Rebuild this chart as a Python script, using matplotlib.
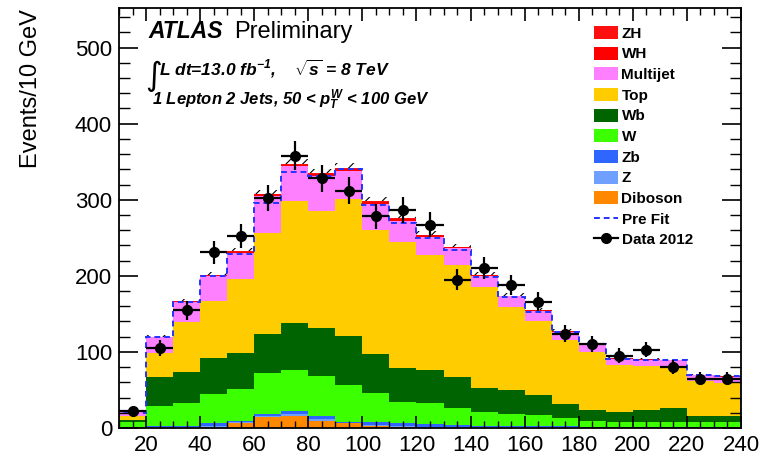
import numpy as np
import matplotlib
matplotlib.use("Agg")
import matplotlib.pyplot as plt
from matplotlib.patches import Patch
from matplotlib.lines import Line2D

plt.rcParams['font.family'] = ['Liberation Sans', 'DejaVu Sans']
plt.rcParams['mathtext.fontset'] = 'custom'
plt.rcParams['mathtext.rm'] = 'Liberation Sans:bold:italic'
plt.rcParams['mathtext.it'] = 'Liberation Sans:bold:italic'
plt.rcParams['mathtext.bf'] = 'Liberation Sans:bold:italic'
plt.rcParams['hatch.linewidth'] = 0.8

# m_jj bins, 10 GeV wide
edges = np.arange(10, 250, 10)

# per-process yields (stack order bottom -> top)
diboson = [0, 0, 0, 0, 7, 15, 16, 9, 6, 2, 1, 0, 0, 0, 0, 0, 0, 0, 0, 0, 0, 0, 0]
z_jets = [0.4, 0.7, 1, 2, 0.7, 1.4, 2, 2.5, 0.7, 2, 1.7, 1.7, 1.4, 1, 1, 0.7, 0.7, 0.3, 0.3, 0.3, 0.3, 0.3, 0.3]
zb = [0.6, 1.3, 2, 4, 1.3, 2.6, 4, 4.5, 1.3, 4, 3.3, 3.3, 2.6, 2, 2, 1.3, 1.3, 0.7, 0.7, 0.7, 0.7, 0.7, 0.7]
w_jets = [7, 27, 29.5, 39, 42, 53, 54, 52, 49, 38.5, 28.6, 27.5, 22, 18, 16, 15, 10.7, 8.6, 7.3, 7.3, 7.3, 7.3, 7.3]
wb = [3, 38.5, 41.5, 47, 47, 52, 62, 63, 64, 50.5, 44, 43.5, 41.5, 31, 31, 26, 19, 14, 13, 15.5, 18.5, 7.5, 7.5]
top = [5, 30.5, 65, 75, 98, 132, 160, 154.5, 180, 163.5, 165.5, 151.5, 147, 133, 109, 98, 83.5, 76.5, 61.5, 58, 53, 46, 44]
multijet = [5, 21.5, 27, 33, 34.5, 49, 46, 46, 37, 33.5, 28.5, 23.4, 21.5, 14.5, 14, 13, 11.5, 10.5, 8.4, 8.1, 9.3, 7.5, 7.7]
wh = [0, 0.4, 0.7, 0.7, 1.1, 1.9, 2.2, 2.6, 3, 3, 2.6, 2.2, 1.5, 1.1, 0.7, 0.7, 0.4, 0.4, 0.2, 0.2, 0.15, 0.15, 0.15]
zh = [0, 0.1, 0.3, 0.3, 0.4, 0.6, 0.8, 0.9, 1, 1, 0.9, 0.8, 0.5, 0.4, 0.3, 0.3, 0.1, 0.1, 0.1, 0.1, 0.05, 0.05, 0.05]

prefit = [20, 120, 166, 200, 229, 296, 336, 331, 340, 293, 270, 250, 234, 198, 172, 153, 126, 110, 91, 90, 90, 70, 68]
data = [23, 105, 155, 231, 252, 302, 358, 328, 312, 278, 287, 267, 195, 210, 188, 166, 124, 111, 95, 103, 80, 65, 65]

samples = [
    ("Diboson", diboson, "#ff8800"),
    ("Z", z_jets, "#6fa0ff"),
    ("Zb", zb, "#2f66ff"),
    ("W", w_jets, "#3cff00"),
    ("Wb", wb, "#006400"),
    ("Top", top, "#ffcc00"),
    ("Multijet", multijet, "#ff80ff"),
    ("WH", wh, "#ff0000"),
    ("ZH", zh, "#ff1010"),
]

fig = plt.figure(figsize=(7.76, 4.57), dpi=100)
ax = fig.add_axes([119 / 776, 29 / 457, 622 / 776, 420 / 457])

lefts = edges[:-1]
bottom = np.zeros(len(lefts))
for name, vals, col in samples:
    vals = np.array(vals, dtype=float)
    ax.bar(lefts, vals, width=10, bottom=bottom, align='edge', color=col, linewidth=0, label=name)
    bottom = bottom + vals
total = bottom

# uncertainty band
ax.fill_between(edges, np.append(total, total[-1]), np.append(total * 1.018, total[-1] * 1.018),
                step='post', facecolor='none', edgecolor='black', hatch='//', linewidth=0)

# pre-fit line
ax.stairs(prefit, edges, color='#2233ff', linestyle=(0, (3, 2)), linewidth=1.4)

# data
centers = lefts + 5
ax.errorbar(centers, data, xerr=5, yerr=np.sqrt(data), fmt='o', color='black',
            markersize=7, elinewidth=1.6, capsize=0)

ax.set_xlim(10, 240)
ax.set_ylim(0, 552)
ax.set_xticks(np.arange(20, 241, 20))
ax.set_xticks(np.arange(10, 241, 5), minor=True)
ax.set_yticks(np.arange(0, 501, 100))
ax.set_yticks(np.arange(0, 551, 20), minor=True)
ax.tick_params(axis='both', which='both', direction='in', top=True, right=True, labelsize=16)
ax.tick_params(axis='y', which='major', length=14, width=1.2, pad=5)
ax.tick_params(axis='y', which='minor', length=8, width=1.0)
ax.tick_params(axis='x', which='major', length=9, width=1.2, pad=5)
ax.tick_params(axis='x', which='minor', length=5, width=1.0)
for s in ax.spines.values():
    s.set_linewidth(1.3)

fig.text(31 / 776, 1 - 9 / 457, "Events/10 GeV", rotation=90, ha='center', va='top', fontsize=17)

# labels
def px(x, y):
    return (x - 119) / 622, (428 - y) / 420

ax.text(*px(148, 38), "ATLAS", transform=ax.transAxes, fontsize=16.5, fontweight='bold', style='italic')
ax.text(*px(234, 38), "Preliminary", transform=ax.transAxes, fontsize=17)
ax.text(*px(145, 85), "∫", transform=ax.transAxes, fontsize=23, family='DejaVu Sans')
ax.text(*px(159, 75), r"L dt=13.0 fb$^{-1}$,    $\sqrt{s}$ = 8 TeV", transform=ax.transAxes,
        fontsize=12.5, fontweight='bold', style='italic')
ax.text(*px(152, 105), r"1 Lepton 2 Jets, 50 < $p_T^W$ < 100 GeV", transform=ax.transAxes,
        fontsize=12, fontweight='bold', style='italic')

# legend
handles = []
for name, vals, col in reversed(samples):
    handles.append(Patch(facecolor=col, edgecolor='none', label=name))
handles.append(Line2D([], [], color='#2233ff', linestyle=(0, (3, 2)), linewidth=1.4, label='Pre Fit'))
handles.append(Line2D([], [], color='black', marker='o', markersize=7, linewidth=1.6, label='Data 2012'))
ax.legend(handles=handles, loc='upper left', bbox_to_anchor=px(594, 26), frameon=False,
          prop={'weight': 'bold', 'size': 11}, handlelength=1.6, handleheight=0.95,
          handletextpad=0.2, labelspacing=0.38, borderpad=0, borderaxespad=0)

fig.savefig("out.png", dpi=100)
